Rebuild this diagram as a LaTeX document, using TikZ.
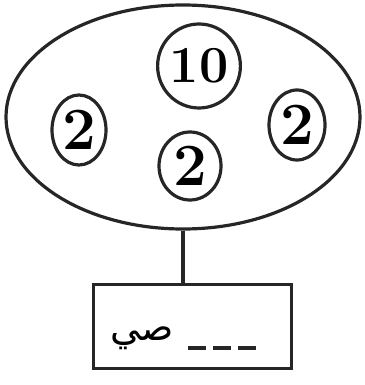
\documentclass[tikz,border=0pt]{standalone}
\usepackage{fontspec}
\usetikzlibrary{shapes.geometric}
\newfontfamily\arabicfont[Script=Arabic]{DejaVu Sans}
\TeXXeTstate=1
\tikzset{
  ink/.style={draw=black!85, line width=3.2pt},
  coin/.style={ink, ellipse, inner sep=0pt},
  digits/.style={font=\fontsize{52}{56}\selectfont\bfseries},
  two/.style={font=\fontsize{60}{64}\selectfont\bfseries},
}
\begin{document}
\begin{tikzpicture}[x=1pt,y=-1pt]
\useasboundingbox (0,0) rectangle (364,385);
\node[ink, ellipse, minimum width=354pt, minimum height=224pt] (outer) at (183,117) {};
\node[coin, digits, minimum width=74pt, minimum height=84pt] (ten) at (199,66) {10};
\node[coin, two, minimum width=54pt, minimum height=70pt] (left) at (79,130) {2};
\node[coin, two, minimum width=62pt, minimum height=68pt] (mid) at (190,166) {2};
\node[coin, two, minimum width=56pt, minimum height=70pt] (right) at (297,125) {2};
\node[ink, rectangle, minimum width=198pt, minimum height=84pt, anchor=north west] (box) at (92,283) {};
\draw[ink] (outer.south) -- (outer.south |- box.north);
\node[font=\arabicfont\fontsize{38}{42}\selectfont, anchor=west, inner sep=0pt] (word) at (110,338) {\beginR صي\endR};
\coordinate (d1) at (188,348);
\coordinate (d2) at (262,348);
\draw[ink, dash pattern=on 18pt off 7pt] (d1) -- (d2);
\end{tikzpicture}
\end{document}
